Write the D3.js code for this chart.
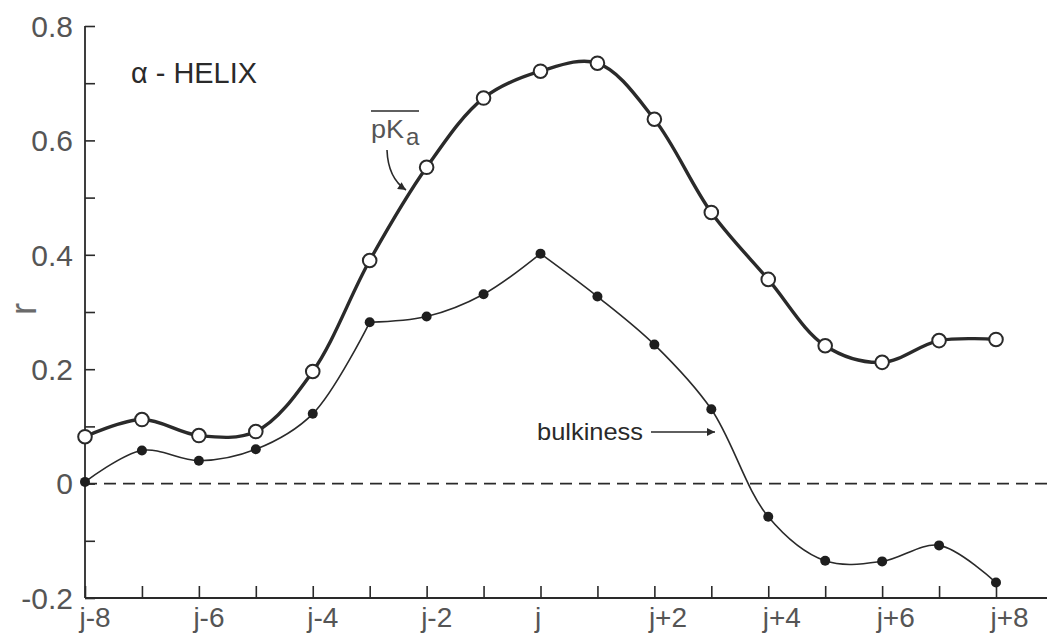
<!DOCTYPE html>
<html>
<head>
<meta charset="utf-8">
<script src="https://cdn.jsdelivr.net/npm/d3@7"></script>
<style>
  html, body { margin: 0; padding: 0; background: #fff; }
  svg { display: block; }
  text { font-family: "Liberation Sans", Arial, sans-serif; }
</style>
</head>
<body>
<svg id="chart" width="1047" height="635"></svg>
<script>
// ---- data ----
const positions = [-8, -7, -6, -5, -4, -3, -2, -1, 0, 1, 2, 3, 4, 5, 6, 7, 8];
const pKaValues = [0.082, 0.112, 0.084, 0.091, 0.196, 0.390, 0.553, 0.674, 0.721, 0.735, 0.637, 0.474, 0.357, 0.241, 0.212, 0.250, 0.252];
const bulkinessValues = [0.003, 0.058, 0.040, 0.060, 0.122, 0.282, 0.292, 0.331, 0.402, 0.327, 0.243, 0.130, -0.058, -0.135, -0.136, -0.108, -0.173];
const xTickLabels = ["j-8", "", "j-6", "", "j-4", "", "j-2", "", "j", "", "j+2", "", "j+4", "", "j+6", "", "j+8"];
const yTicks = [-0.2, -0.1, 0, 0.1, 0.2, 0.3, 0.4, 0.5, 0.6, 0.7, 0.8];
const yTickLabels = ["-0.2", "", "0", "", "0.2", "", "0.4", "", "0.6", "", "0.8"];

const svg = d3.select("#chart");
const ink = "#2a2a2a";
const labelInk = "#555";

const x = d3.scaleLinear().domain([-8, 8]).range([85, 996]);
const y = d3.scaleLinear().domain([-0.2, 0.8]).range([598, 26]);

// ---- axes ----
const yAxis = d3.axisLeft(y)
  .tickValues(yTicks)
  .tickSizeInner(-10).tickSizeOuter(0).tickPadding(12)
  .tickFormat((d, i) => yTickLabels[i]);
const gy = svg.append("g").attr("transform", `translate(${x(-8)},0)`).call(yAxis);
gy.select(".domain").remove();
gy.selectAll(".tick line").attr("stroke", ink).attr("stroke-width", 1.6);
gy.selectAll(".tick text").attr("fill", labelInk).attr("font-size", 30).attr("dy", "0.34em");

const xAxis = d3.axisBottom(x)
  .tickValues(positions)
  .tickSizeInner(-12).tickSizeOuter(0).tickPadding(9)
  .tickFormat((d, i) => xTickLabels[i]);
const gx = svg.append("g").attr("transform", `translate(0,${y(-0.2)})`).call(xAxis);
gx.select(".domain").remove();
gx.selectAll(".tick line").attr("stroke", ink).attr("stroke-width", 1.6);
gx.selectAll(".tick text")
  .attr("fill", labelInk).attr("font-size", 28)
  .attr("text-anchor", "start").attr("x", -6).attr("dy", "0.72em");

// axis lines
svg.append("line").attr("x1", x(-8)).attr("x2", x(-8)).attr("y1", y(0.8)).attr("y2", y(-0.2))
  .attr("stroke", ink).attr("stroke-width", 1.8);
svg.append("line").attr("x1", x(-8)).attr("x2", 1047).attr("y1", y(-0.2)).attr("y2", y(-0.2))
  .attr("stroke", ink).attr("stroke-width", 1.8);

// zero dashed line
svg.append("line").attr("x1", x(-8)).attr("x2", 1047).attr("y1", y(0)).attr("y2", y(0))
  .attr("stroke", ink).attr("stroke-width", 1.8).attr("stroke-dasharray", "12,7");

// y label
svg.append("text").attr("transform", "translate(36,309) rotate(-90)")
  .attr("text-anchor", "middle").attr("font-size", 36).attr("fill", "#6a6a6a").text("r");

// ---- lines ----
const pts = (vals) => positions.map((p, i) => [p, vals[i]]);
const line = d3.line().x(d => x(d[0])).y(d => y(d[1])).curve(d3.curveCatmullRom.alpha(0.5));

const pk = pts(pKaValues);
svg.append("path").attr("d", line(pk)).attr("fill", "none")
  .attr("stroke", ink).attr("stroke-width", 3.4).attr("stroke-linejoin", "round");

const bk = pts(bulkinessValues);
[[0, 6], [5, 9], [8, 17]].forEach(([a, b]) => {
  svg.append("path").attr("d", line(bk.slice(a, b))).attr("fill", "none")
    .attr("stroke", ink).attr("stroke-width", 1.6).attr("stroke-linejoin", "round");
});

svg.selectAll("circle.pk").data(pk).enter().append("circle")
  .attr("class", "pk").attr("cx", d => x(d[0])).attr("cy", d => y(d[1])).attr("r", 6.8)
  .attr("fill", "#fff").attr("stroke", ink).attr("stroke-width", 2);

svg.selectAll("circle.bk").data(bk).enter().append("circle")
  .attr("class", "bk").attr("cx", d => x(d[0])).attr("cy", d => y(d[1])).attr("r", 5)
  .attr("fill", "#1e1e1e");

// ---- annotations ----
svg.append("defs").append("marker").attr("id", "ah")
  .attr("viewBox", "0 0 10 10").attr("refX", 10).attr("refY", 5)
  .attr("markerWidth", 14).attr("markerHeight", 8).attr("markerUnits", "userSpaceOnUse")
  .attr("orient", "auto")
  .append("path").attr("d", "M0,0 L10,5 L0,10 Z").attr("fill", ink);

svg.append("text").attr("x", 131).attr("y", 83).attr("font-size", 29).attr("fill", ink)
  .attr("textLength", 126).attr("lengthAdjust", "spacingAndGlyphs").text("α - HELIX");

const pkLabel = svg.append("text").attr("x", 371).attr("y", 138).attr("font-size", 26).attr("fill", labelInk);
pkLabel.append("tspan").attr("textLength", 33).attr("lengthAdjust", "spacingAndGlyphs").text("pK");
pkLabel.append("tspan").attr("dx", 2).attr("dy", 7).attr("font-size", 24).text("a");
svg.append("line").attr("x1", 371).attr("x2", 419).attr("y1", 111).attr("y2", 111)
  .attr("stroke", ink).attr("stroke-width", 1.6);
svg.append("path").attr("d", "M387,150 Q388,178 406,190").attr("fill", "none")
  .attr("stroke", ink).attr("stroke-width", 1.6).attr("marker-end", "url(#ah)");

svg.append("text").attr("x", 537).attr("y", 440).attr("font-size", 24).attr("fill", ink)
  .attr("textLength", 106).attr("lengthAdjust", "spacingAndGlyphs").text("bulkiness");
svg.append("line").attr("x1", 651).attr("x2", 715).attr("y1", 432).attr("y2", 432)
  .attr("stroke", ink).attr("stroke-width", 1.6).attr("marker-end", "url(#ah)");
</script>
</body>
</html>
